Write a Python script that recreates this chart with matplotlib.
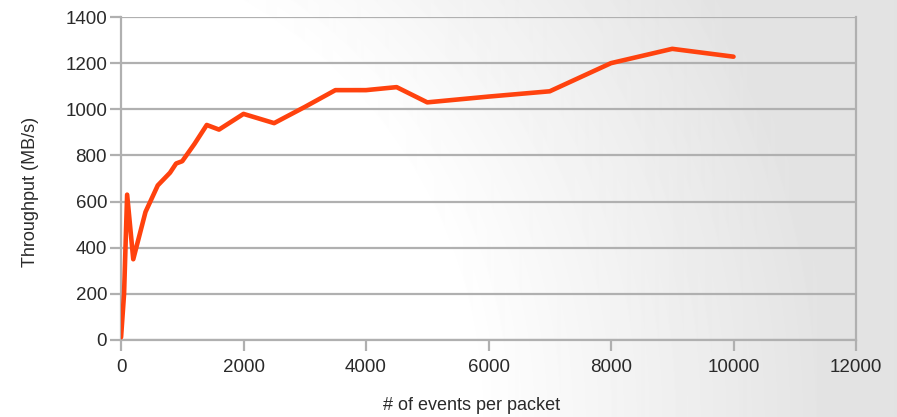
import numpy as np
import matplotlib
matplotlib.use("Agg")
import matplotlib.pyplot as plt

# Throughput measured for different packet sizes
events_per_packet = [1, 50, 100, 200, 400, 600, 800, 900, 1000, 1200, 1400, 1600,
                     2000, 2500, 3000, 3500, 4000, 4500, 5000, 6000, 7000, 8000,
                     9000, 10000]
throughput_mbs = [12, 200, 630, 350, 555, 670, 725, 765, 775, 850, 932, 912,
                  980, 940, 1010, 1083, 1083, 1096, 1030, 1055, 1078, 1200,
                  1262, 1228]

x_ticks = [0, 2000, 4000, 6000, 8000, 10000, 12000]
y_ticks = [0, 200, 400, 600, 800, 1000, 1200, 1400]

plt.rcParams['font.family'] = ['Liberation Sans', 'DejaVu Sans']

W, H = 897, 417
fig = plt.figure(figsize=(W / 100, H / 100), dpi=100)

# soft radial background: white near the lower left, light gray toward the right
bg = fig.add_axes([0, 0, 1, 1], zorder=-10)
yy, xx = np.mgrid[0:H, 0:W]
d = np.hypot(xx - 0, yy - H)
t = np.clip((d - 470) / 360, 0, 1)
shade = 1 - 0.11 * t
bg.imshow(shade, cmap='gray', vmin=0, vmax=1, aspect='auto',
          extent=[0, 1, 0, 1], origin='upper', interpolation='bilinear')
bg.axis('off')

ax = fig.add_axes([121 / W, 1 - 340 / H, (856 - 121) / W, (340 - 17) / H])
ax.patch.set_alpha(0)

grid_c = '#b0b0b0'
ax.set_xlim(0, 12000)
ax.set_ylim(0, 1400)
ax.set_xticks(x_ticks)
ax.set_yticks(y_ticks)
ax.yaxis.grid(True, color=grid_c, linewidth=1.6)
ax.set_axisbelow(True)
for side in ['left', 'right', 'bottom']:
    ax.spines[side].set_color(grid_c)
    ax.spines[side].set_linewidth(1.6)
ax.spines['top'].set_visible(False)
ax.tick_params(axis='both', length=8, width=1.6, color=grid_c,
               labelsize=13.5, labelcolor='#2a2a2a')
ax.tick_params(axis='x', pad=6)
ax.tick_params(axis='y', pad=2)

ax.plot(events_per_packet, throughput_mbs, color='#ff420e', linewidth=3.3,
        solid_joinstyle='round', solid_capstyle='round', zorder=5)

ax.set_xlabel('# of events per packet', fontsize=13, color='#2a2a2a', labelpad=14)
ax.xaxis.set_label_coords((472 - 121) / 735, -(405 - 340) / 323)
ax.set_ylabel('Throughput (MB/s)', fontsize=13, color='#2a2a2a', labelpad=14)
ax.yaxis.set_label_coords(-(121 - 30) / 735, (340 - 192) / 323)
ax.yaxis.label.set_verticalalignment('center')
ax.xaxis.label.set_verticalalignment('center')

fig.savefig('out.png', dpi=100)
